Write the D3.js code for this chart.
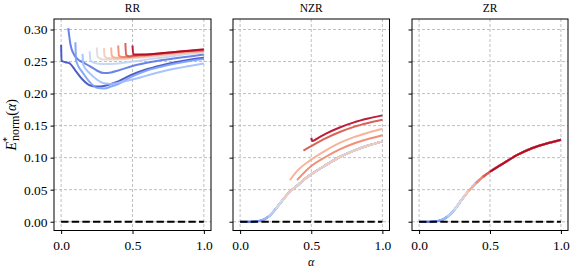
<!DOCTYPE html>
<html>
<head>
<meta charset="utf-8">
<script src="https://cdn.jsdelivr.net/npm/d3@7"></script>
<style>
  body { margin: 0; background: #fff; }
</style>
</head>
<body>
<svg id="chart" width="571" height="270" font-family="Liberation Serif"></svg>
<script>
/* Data */
const panelNames = ["RR", "NZR", "ZR"];
const xTicks = [0, 0.5, 1.0];
const yTicks = [0, 0.05, 0.10, 0.15, 0.20, 0.25, 0.30];

// start alpha of every run and its colour (coolwarm)
const starts = [0, 0.05, 0.10, 0.15, 0.20, 0.25, 0.30, 0.35, 0.40, 0.45, 0.50];
const seriesColors = ["#3b4cc0", "#5977e3", "#7b9ff9", "#9ebeff", "#c0d4f5", "#dddcdc",
  "#f2cbb7", "#f7ac8e", "#ee8468", "#d65244", "#b40426"];

// RR panel, one alpha / value list per run
const rrAlpha = [
  [0, 0.003, 0.03, 0.06, 0.10, 0.15, 0.20, 0.25, 0.30, 0.35, 0.40, 0.50, 0.60, 0.70, 0.80, 0.90, 1.0],
  [0.05, 0.065, 0.09, 0.12, 0.15, 0.20, 0.25, 0.30, 0.35, 0.40, 0.50, 0.60, 0.70, 0.80, 0.90, 1.0],
  [0.10, 0.105, 0.12, 0.15, 0.20, 0.25, 0.30, 0.35, 0.40, 0.50, 0.60, 0.70, 0.80, 0.90, 1.0],
  [0.15, 0.155, 0.20, 0.25, 0.30, 0.35, 0.40, 0.50, 0.60, 0.70, 0.80, 0.90, 1.0],
  [0.20, 0.205, 0.22, 0.25, 0.30, 0.40, 0.50, 0.60, 0.70, 0.80, 0.90, 1.0],
  [0.25, 0.255, 0.27, 0.30, 0.40, 0.50, 0.60, 0.70, 0.80, 0.90, 1.0],
  [0.30, 0.305, 0.33, 0.40, 0.50, 0.60, 0.70, 0.80, 0.90, 1.0],
  [0.35, 0.355, 0.38, 0.45, 0.50, 0.60, 0.70, 0.80, 0.90, 1.0],
  [0.40, 0.405, 0.43, 0.50, 0.60, 0.70, 0.80, 0.90, 1.0],
  [0.45, 0.455, 0.48, 0.50, 0.60, 0.70, 0.80, 0.90, 1.0],
  [0.50, 0.505, 0.55, 0.60, 0.70, 0.80, 0.90, 1.0]
];
const rrValue = [
  [0.276, 0.251, 0.249, 0.247, 0.236, 0.222, 0.213, 0.211, 0.212, 0.215, 0.219, 0.230, 0.238, 0.244, 0.249, 0.253, 0.256],
  [0.302, 0.277, 0.261, 0.253, 0.249, 0.243, 0.236, 0.232, 0.233, 0.236, 0.243, 0.248, 0.252, 0.255, 0.258, 0.261],
  [0.280, 0.252, 0.243, 0.233, 0.218, 0.209, 0.208, 0.211, 0.215, 0.227, 0.236, 0.242, 0.247, 0.251, 0.254],
  [0.262, 0.245, 0.232, 0.222, 0.216, 0.215, 0.217, 0.222, 0.228, 0.234, 0.239, 0.243, 0.247],
  [0.266, 0.252, 0.249, 0.247, 0.246, 0.247, 0.250, 0.253, 0.256, 0.259, 0.262, 0.264],
  [0.272, 0.258, 0.255, 0.253, 0.253, 0.255, 0.257, 0.259, 0.261, 0.263, 0.265],
  [0.271, 0.258, 0.255, 0.255, 0.256, 0.258, 0.260, 0.262, 0.264, 0.266],
  [0.272, 0.259, 0.256, 0.256, 0.257, 0.259, 0.261, 0.263, 0.265, 0.266],
  [0.275, 0.259, 0.257, 0.258, 0.260, 0.262, 0.264, 0.266, 0.267],
  [0.279, 0.260, 0.258, 0.259, 0.261, 0.263, 0.265, 0.267, 0.268],
  [0.275, 0.261, 0.261, 0.261, 0.263, 0.265, 0.267, 0.269]
];

// NZR panel: shared curve for the early runs, own curves for the late ones
const nzrBaseAlpha = [0, 0.05, 0.10, 0.15, 0.20, 0.25, 0.30, 0.35, 0.40, 0.45, 0.50, 0.60, 0.70, 0.80, 0.90, 1.0];
const nzrBaseValue = [0, 0, 0.0005, 0.002, 0.008, 0.020, 0.034, 0.047, 0.056, 0.066, 0.074, 0.088, 0.101, 0.111, 0.119, 0.125];
const nzrLateAlpha = [
  [0.35, 0.40, 0.50, 0.60, 0.70, 0.80, 0.90, 1.0],
  [0.40, 0.50, 0.60, 0.70, 0.80, 0.90, 1.0],
  [0.445, 0.50, 0.60, 0.70, 0.80, 0.90, 1.0],
  [0.50, 0.507, 0.55, 0.60, 0.70, 0.80, 0.90, 1.0]
];
const nzrLateValue = [
  [0.065, 0.079, 0.097, 0.111, 0.123, 0.132, 0.139, 0.145],
  [0.065, 0.087, 0.101, 0.113, 0.122, 0.129, 0.135],
  [0.111, 0.118, 0.130, 0.140, 0.148, 0.154, 0.159],
  [0.131, 0.126, 0.131, 0.137, 0.147, 0.155, 0.161, 0.166]
];
const nzrLateFirst = 7; // index of the first run with its own curve

// ZR panel: every run sits on the same curve
const zrBaseAlpha = [0, 0.05, 0.10, 0.15, 0.20, 0.25, 0.30, 0.35, 0.40, 0.45, 0.50, 0.60, 0.70, 0.80, 0.90, 1.0];
const zrBaseValue = [0, 0, 0.0005, 0.002, 0.008, 0.019, 0.034, 0.048, 0.060, 0.070, 0.078, 0.092, 0.105, 0.115, 0.122, 0.128];

const zeroAlpha = [0, 1];
const zeroValue = [0, 0];

/* Layout */
const FONT = "Liberation Serif";
const svg = d3.select("#chart");
const plotTop = 19, plotBottom = 230.5;
const panelX = [[54, 211], [233, 389.5], [412, 568]];

const y = d3.scaleLinear().domain([-0.0137, 0.3164]).range([plotBottom, plotTop]);

function zip(a, v) { return a.map((d, i) => [d, v[i]]); }

function panelSeries(p) {
  let out = [];
  starts.forEach((s, i) => {
    if (p === 0) {
      out.push(zip(rrAlpha[i], rrValue[i]));
    } else if (p === 1) {
      if (i >= nzrLateFirst) {
        out.push(zip(nzrLateAlpha[i - nzrLateFirst], nzrLateValue[i - nzrLateFirst]));
      } else {
        out.push(zip(nzrBaseAlpha, nzrBaseValue).filter(d => d[0] >= s - 1e-9));
      }
    } else {
      out.push(zip(zrBaseAlpha, zrBaseValue).filter(d => d[0] >= s - 1e-9));
    }
  });
  return out;
}

panelNames.forEach((name, p) => {
  let [x0, x1] = panelX[p];
  let x = d3.scaleLinear().domain([-0.05, 1.05]).range([x0, x1]);
  let g = svg.append("g");

  // grid
  g.selectAll(".gx").data(xTicks).enter().append("line")
    .attr("x1", d => x(d)).attr("x2", d => x(d))
    .attr("y1", plotTop).attr("y2", plotBottom)
    .attr("stroke", "#b0b0b0").attr("stroke-width", 0.8)
    .attr("stroke-dasharray", "3,2");
  g.selectAll(".gy").data(yTicks).enter().append("line")
    .attr("x1", x0).attr("x2", x1)
    .attr("y1", d => y(d)).attr("y2", d => y(d))
    .attr("stroke", "#b0b0b0").attr("stroke-width", 0.8)
    .attr("stroke-dasharray", "3,2");

  // runs
  let line = d3.line()
    .x(d => x(d[0]))
    .y(d => y(d[1]))
    .curve(d3.curveMonotoneX);

  panelSeries(p).forEach((pts, i) => {
    g.append("path")
      .attr("d", line(pts))
      .attr("fill", "none")
      .attr("stroke", seriesColors[i])
      .attr("stroke-width", 2)
      .attr("stroke-opacity", 0.9)
      .attr("stroke-linejoin", "round");
  });

  // zero reference
  g.append("path")
    .attr("d", d3.line().x(d => x(d[0])).y(d => y(d[1]))(zip(zeroAlpha, zeroValue)))
    .attr("fill", "none")
    .attr("stroke", "#000")
    .attr("stroke-width", 2)
    .attr("stroke-dasharray", "7.4,3.2");

  // spines
  g.append("rect")
    .attr("x", x0).attr("y", plotTop)
    .attr("width", x1 - x0).attr("height", plotBottom - plotTop)
    .attr("fill", "none").attr("stroke", "#000").attr("stroke-width", 1);

  // axes
  let ax = g.append("g").attr("transform", "translate(0," + plotBottom + ")")
    .call(d3.axisBottom(x).tickValues(xTicks).tickSize(3.5).tickPadding(6)
      .tickFormat(d3.format(".1f")));
  let ay = g.append("g").attr("transform", "translate(" + x0 + ",0)")
    .call(d3.axisLeft(y).tickValues(yTicks).tickSize(3.5).tickPadding(3)
      .tickFormat(p === 0 ? d3.format(".2f") : ""));
  [ax, ay].forEach(a => {
    a.attr("font-family", FONT).attr("font-size", 13.5);
    a.select(".domain").remove();
    a.selectAll("text").attr("fill", "#000");
    a.selectAll("line").attr("stroke", "#000");
  });

  // title
  g.append("text")
    .attr("x", (x0 + x1) / 2).attr("y", 12)
    .attr("text-anchor", "middle")
    .attr("font-family", FONT).attr("font-size", 11.5)
    .text(name);

  if (p === 1) {
    g.append("text")
      .attr("x", (x0 + x1) / 2).attr("y", 266)
      .attr("text-anchor", "middle")
      .attr("font-family", FONT).attr("font-size", 12)
      .attr("font-style", "italic")
      .text("α");
  }
});

// y label
let yl = svg.append("text")
  .attr("transform", "translate(16," + ((plotTop + plotBottom) / 2) + ") rotate(-90)")
  .attr("text-anchor", "middle")
  .attr("font-family", FONT).attr("font-size", 14);
yl.append("tspan").attr("font-style", "italic").text("E");
yl.append("tspan").attr("dy", -6).attr("font-size", 10).text("*");
yl.append("tspan").attr("dx", -4).attr("dy", 9).attr("font-size", 12).text("norm");
yl.append("tspan").attr("dy", -3).text("(");
yl.append("tspan").attr("font-style", "italic").text("α");
yl.append("tspan").text(")");
</script>
</body>
</html>
